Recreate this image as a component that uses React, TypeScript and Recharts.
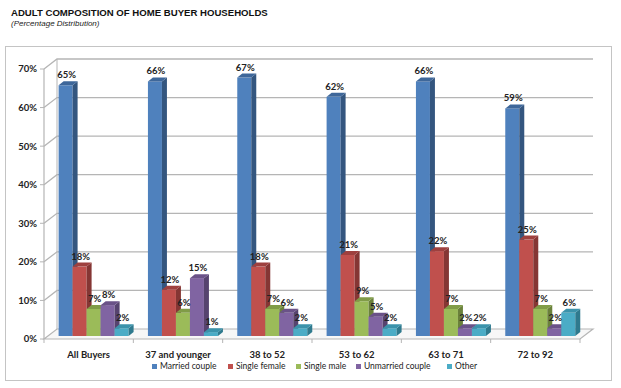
import React from 'react';
import { BarChart, Bar, XAxis, YAxis, CartesianGrid, LabelList } from 'recharts';

const categories = ['All Buyers', '37 and younger', '38 to 52', '53 to 62', '63 to 71', '72 to 92'];
const marriedCouple = [65, 66, 67, 62, 66, 59];
const singleFemale = [18, 12, 18, 21, 22, 25];
const singleMale = [7, 6, 7, 9, 7, 7];
const unmarriedCouple = [8, 15, 6, 5, 2, 2];
const other = [2, 1, 2, 2, 2, 6];
const yTicks = [0, 10, 20, 30, 40, 50, 60, 70];
const seriesNames = ['Married couple', 'Single female', 'Single male', 'Unmarried couple', 'Other'];
const seriesKeys = ['married', 'female', 'male', 'unmarried', 'other'];

const colors = [
  { front: '#4f81bd', side: '#34567f', top: '#3e679a' },
  { front: '#c0504d', side: '#853634', top: '#9e403e' },
  { front: '#9bbb59', side: '#6a813b', top: '#809c47' },
  { front: '#8064a2', side: '#56436f', top: '#6a5288' },
  { front: '#4bacc6', side: '#2f7a8e', top: '#3b93ab' },
];

const data = categories.map((c, i) => ({
  name: c,
  married: marriedCouple[i],
  female: singleFemale[i],
  male: singleMale[i],
  unmarried: unmarriedCouple[i],
  other: other[i],
}));

const FONT = 'Lato, "Open Sans", sans-serif';
const DX = 4;
const DY = -3;
const BDX = 5;
const BDY = 4;
const WX = 13;
const WY = 10;
const GRID = '#b5b5b5';

const makeShape = (ci: number) => (props: any) => {
  const { x, y, width, height } = props;
  if (width == null || height == null) return null;
  const c = colors[ci];
  const sx = x + DX;
  const sy = y + DY;
  const w = width;
  const h = Math.max(height, 0);
  return (
    <g>
      <rect x={sx} y={sy} width={w} height={h} fill={c.front} />
      <polygon
        points={`${sx + w},${sy} ${sx + w + BDX},${sy - BDY} ${sx + w + BDX},${sy + h - BDY} ${sx + w},${sy + h}`}
        fill={c.side}
      />
      <polygon
        points={`${sx},${sy} ${sx + BDX},${sy - BDY} ${sx + w + BDX},${sy - BDY} ${sx + w},${sy}`}
        fill={c.top}
      />
    </g>
  );
};

const renderLabel = (props: any) => {
  const { x, y, width, value } = props;
  return (
    <text
      x={x + DX + width / 2 + 1}
      y={y + DY - BDY - 3}
      textAnchor="middle"
      fontFamily={FONT}
      fontSize={9.5}
      fontWeight={700}
      fill="#222"
    >
      {value}%
    </text>
  );
};

const gridLine = (p: any) => {
  const { x1, x2, y1, key } = p;
  const top = p.y;
  const bottom = p.y + p.height;
  const isBottom = Math.abs(y1 - bottom) < 0.6;
  const isTop = Math.abs(y1 - top) < 0.6;
  const bx1 = x1 + WX;
  const bx2 = x2 + WX;
  const by = y1 - WY;
  if (isBottom) {
    const step = (x2 - x1) / categories.length;
    const ticks = [];
    for (let i = 0; i <= categories.length; i++) {
      ticks.push(
        <line key={'t' + i} x1={x1 + step * i} y1={y1} x2={x1 + step * i} y2={y1 + 4} stroke={GRID} strokeWidth={1} />
      );
    }
    return (
      <g key={key}>
        <polygon
          points={`${x1},${y1} ${bx1},${by} ${bx2},${by} ${x2},${y1}`}
          fill="#f7f7f7"
          stroke={GRID}
          strokeWidth={1.2}
        />
        {ticks}
      </g>
    );
  }
  return (
    <g key={key}>
      <polyline points={`${x1},${y1} ${bx1},${by} ${bx2},${by}`} fill="none" stroke={GRID} strokeWidth={1.3} />
      {isTop ? <line x1={bx1} y1={by} x2={bx1} y2={bottom - WY} stroke={GRID} strokeWidth={1} /> : null}
    </g>
  );
};

const legendX = [152, 228, 296, 356, 447];

export default function App() {
  return (
    <div style={{ position: 'absolute', left: 0, top: 0, width: 621, height: 388, background: '#fff', overflow: 'hidden' }}>
      <div
        style={{
          position: 'absolute', left: 11, top: 7, fontFamily: '"Liberation Sans", Arial, sans-serif',
          fontWeight: 700, fontSize: 9.6, color: '#111', whiteSpace: 'nowrap',
        }}
      >
        ADULT COMPOSITION OF HOME BUYER HOUSEHOLDS
      </div>
      <div
        style={{
          position: 'absolute', left: 11, top: 19, fontFamily: '"Liberation Sans", Arial, sans-serif',
          fontStyle: 'italic', fontSize: 8, color: '#222', whiteSpace: 'nowrap',
        }}
      >
        (Percentage Distribution)
      </div>
      <div
        style={{
          position: 'absolute', left: 5, top: 46, width: 605, height: 333,
          border: '1px solid #c4c4c4',
        }}
      />
      <div style={{ position: 'absolute', left: 0, top: 0 }}>
        <BarChart
          width={621}
          height={388}
          data={data}
          margin={{ top: 69, right: 41, left: 4, bottom: 29 }}
          barCategoryGap={10.6}
          barGap={0}
        >
          <CartesianGrid horizontal={gridLine} vertical={false} />
          <XAxis
            dataKey="name"
            height={20}
            axisLine={false}
            tickLine={false}
            tickMargin={6}
            interval={0}
            tick={{ fontFamily: FONT, fontSize: 9.5, fontWeight: 700, fill: '#222' }}
          />
          <YAxis
            width={40}
            domain={[0, 70]}
            ticks={yTicks}
            interval={0}
            axisLine={{ stroke: GRID, strokeWidth: 1.2 }}
            tickLine={{ stroke: GRID }}
            tickSize={4}
            tickMargin={3}
            tickFormatter={(v: number) => `${v}%`}
            tick={{ fontFamily: FONT, fontSize: 9.5, fontWeight: 700, fill: '#222' }}
          />
          {seriesKeys.map((k, i) => (
            <Bar key={k} dataKey={k} name={seriesNames[i]} fill={colors[i].front} shape={makeShape(i)} isAnimationActive={false}>
              <LabelList dataKey={k} content={renderLabel} />
            </Bar>
          ))}
        </BarChart>
      </div>
      {seriesNames.map((n, i) => (
        <div
          key={n}
          style={{
            position: 'absolute', left: legendX[i], top: 361, height: 10, display: 'flex', alignItems: 'center',
            fontFamily: FONT, fontSize: 8.5, color: '#222', whiteSpace: 'nowrap',
          }}
        >
          <span style={{ display: 'inline-block', width: 5, height: 5, background: colors[i].front, marginRight: 3 }} />
          {n}
        </div>
      ))}
    </div>
  );
}
